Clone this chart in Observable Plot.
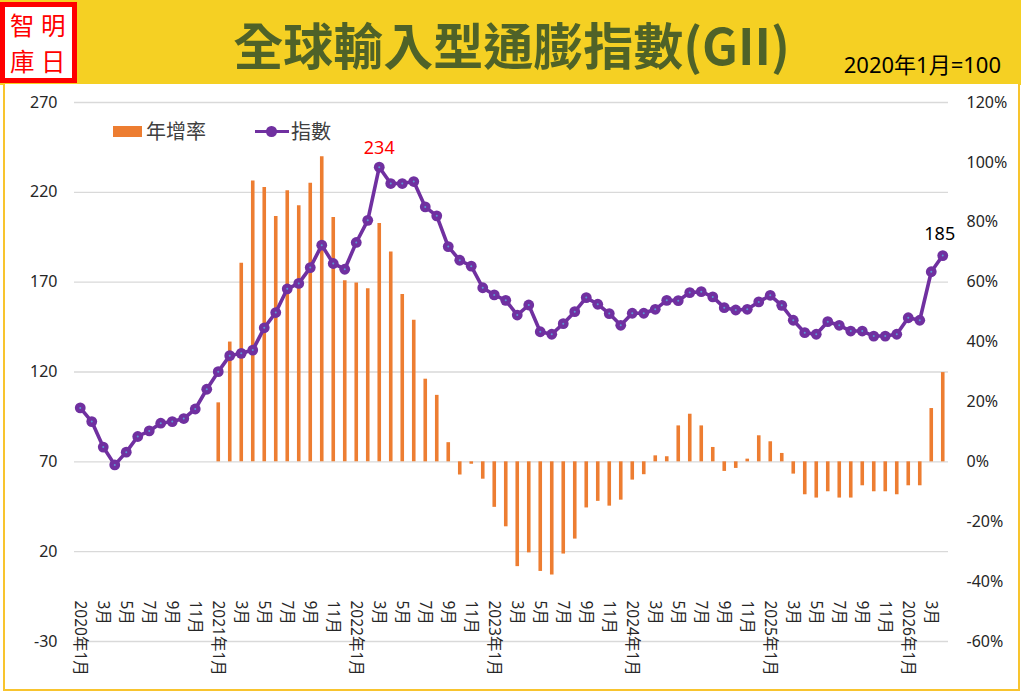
<!DOCTYPE html>
<html><head><meta charset="utf-8">
<script src="https://cdn.jsdelivr.net/npm/d3@7"></script>
<script src="https://cdn.jsdelivr.net/npm/@observablehq/plot@0.6"></script>
<style>
body{margin:0;background:#fff;font-family:"Noto Sans","Noto Sans CJK TC",sans-serif;}
#page{position:relative;width:1023px;height:698px;overflow:hidden;background:#fff;}
#banner{position:absolute;left:0;top:0;width:1021px;height:85px;background:#F5D023;}
#logo{position:absolute;left:0;top:2px;width:67px;height:71px;border:5px solid #FF0000;background:#fff;}
#logo span{position:absolute;font-family:"Noto Sans CJK TC",sans-serif;font-weight:400;font-size:24.5px;line-height:35.5px;color:#FF0000;}
#title{position:absolute;left:0;width:1023px;top:8px;text-align:center;font-family:"Noto Sans CJK TC",sans-serif;font-weight:700;font-size:50px;line-height:70px;color:#4F6228;}
#base{position:absolute;right:22px;top:50px;font-family:"Noto Sans","Noto Sans CJK TC",sans-serif;font-size:22px;line-height:29px;color:#000;}
#box{position:absolute;left:3px;top:84px;width:1017px;height:607px;box-sizing:border-box;border:2.5px solid #F8C42E;border-top:none;background:#fff;}
#chart{position:absolute;left:0;top:84px;}
.lg{position:absolute;font-family:"Noto Sans CJK TC",sans-serif;font-size:20px;line-height:24px;color:#404040;}
</style></head>
<body>
<div id="page">
  <div id="banner"></div>
  <div id="logo">
    <span style="left:5px;top:0px">智</span>
    <span style="left:36px;top:0px">明</span>
    <span style="left:5px;top:35.5px">庫</span>
    <span style="left:36px;top:35.5px">日</span>
  </div>
  <div id="title">全球輸入型通膨指數(GII)</div>
  <div id="base">2020年1月=100</div>
  <div id="box"></div>
  <div id="chart"></div>
  <div style="position:absolute;left:113px;top:126px;width:29px;height:11px;background:#ED7D31"></div>
  <div class="lg" style="left:146px;top:119px">年增率</div>
  <div style="position:absolute;left:255px;top:129.5px;width:34px;height:3.5px;background:#7030A0"></div>
  <div style="position:absolute;left:266px;top:126px;width:10.5px;height:10.5px;border-radius:50%;background:#7030A0"></div>
  <div class="lg" style="left:291px;top:119px">指數</div>
</div>
<script>
// GII index (2020/1 = 100), monthly 2020/1 .. 2026/4
const indexValues = [
  100, 92.4, 78.2, 68.3, 75.4, 84.1, 87.2, 91.5, 92.4, 94.1, 99.4, 110.4,
  120.2, 129.1, 130.4, 132.2, 144.6, 153.1, 166.3, 169.3, 178.1, 190.6, 180.4, 177.2,
  192.1, 204.4, 234, 224.9, 224.9, 226, 211.9, 206.9, 189.8, 182.2, 178.9, 166.9,
  162.9, 159.9, 151.7, 157.3, 142.4, 141, 146.9, 153.6, 161.4, 157.7, 152.5, 146,
  152.7, 152.7, 154.9, 159.9, 159.7, 164.2, 164.7, 161.8, 155.8, 154.5, 154.9, 159,
  162.7, 157.1, 148.8, 141.9, 141, 148, 146, 142.8, 142.8, 140, 140, 141,
  150.2, 148.8, 175.8, 184.8
];
// Year-over-year growth (%), none for 2020
const yoyValues = [
  null, null, null, null, null, null, null, null, null, null, null, null,
  19.7, 40, 66.3, 93.8, 91.6, 81.9, 90.5, 85.5, 93, 101.9, 81.6, 60.5,
  59.7, 57.8, 79.6, 70.1, 55.9, 47.3, 27.6, 22.2, 6.4, -4.4, -0.8, -5.8,
  -15.2, -21.7, -35, -30.4, -36.6, -37.8, -30.8, -25.8, -15.4, -13.2, -14.8, -12.8,
  -6.1, -4.3, 2, 1.7, 12, 15.9, 12, 4.8, -3.2, -2.2, 0.9, 8.7,
  6.7, 2.8, -4.1, -11, -12.1, -10, -12.1, -12.1, -8, -10, -10, -11,
  -8, -8, 17.8, 29.8
];
// x tick labels, every other month
const xTickLabels = [
  "2020年1月","3月","5月","7月","9月","11月",
  "2021年1月","3月","5月","7月","9月","11月",
  "2022年1月","3月","5月","7月","9月","11月",
  "2023年1月","3月","5月","7月","9月","11月",
  "2024年1月","3月","5月","7月","9月","11月",
  "2025年1月","3月","5月","7月","9月","11月",
  "2026年1月","3月"
];
const leftTicks = [-30, 20, 70, 120, 170, 220, 270];
const rightTicks = [-60, -40, -20, 0, 20, 40, 60, 80, 100, 120];

// right axis (%) mapped onto the left axis: 0% = 70, 120% = 270
const pctToY = p => 70 + p * 5 / 3;
const yToPct = v => (v - 70) * 3 / 5;

const data = indexValues.map((v, i) => ({i, v, yoy: yoyValues[i]}));
const bars = data.filter(d => d.yoy != null);
const peak = d3.greatest(data, d => d.v);
const last = data[data.length - 1];

const chart = Plot.plot({
  width: 1023, height: 610,
  marginTop: 18, marginBottom: 53, marginLeft: 74, marginRight: 75,
  style: {background: "transparent", fontFamily: "'Noto Sans','Noto Sans CJK TC',sans-serif", fontSize: "16px", color: "#262626"},
  x: {type: "linear", domain: [-0.5, indexValues.length - 0.5]},
  y: {domain: [-30, 270]},
  marks: [
    Plot.gridY(leftTicks, {stroke: "#d9d9d9", strokeOpacity: 1, strokeWidth: 1.3}),
    Plot.axisY(leftTicks, {anchor: "left", tickSize: 0, tickPadding: 17, label: null, fontSize: 16,
      tickFormat: v => String(v)}),
    Plot.axisY(rightTicks.map(pctToY), {anchor: "right", tickSize: 0, tickPadding: 18, label: null, fontSize: 16,
      tickFormat: v => Math.round(yToPct(v)) + "%"}),
    Plot.axisX(xTickLabels.map((_, k) => k * 2), {anchor: "bottom", tickSize: 0, tickPadding: -41, tickRotate: 90,
      textAnchor: "start", lineAnchor: "middle", label: null, fontSize: 15.5,
      tickFormat: i => xTickLabels[i / 2]}),
    Plot.ruleX(bars, {x: "i", y1: 70, y2: d => pctToY(d.yoy), stroke: "#ED7D31", strokeWidth: 3.6}),
    Plot.line(data, {x: "i", y: "v", stroke: "#7030A0", strokeWidth: 3.6}),
    Plot.dot(data, {x: "i", y: "v", r: 5.4, fill: "#7030A0", stroke: "none"}),
    Plot.dot(data, {x: "i", y: "v", r: 1, fill: "#5B9BD5", stroke: "none"}),
    Plot.text([peak], {x: "i", y: "v", text: d => String(Math.round(d.v)), dy: -19, fill: "#FF0000", fontSize: 18}),
    Plot.text([last], {x: "i", y: "v", text: d => String(Math.round(d.v)), dy: -21, dx: -3, fill: "#000", fontSize: 18})
  ]
});
document.getElementById("chart").appendChild(chart);
</script>
</body></html>
